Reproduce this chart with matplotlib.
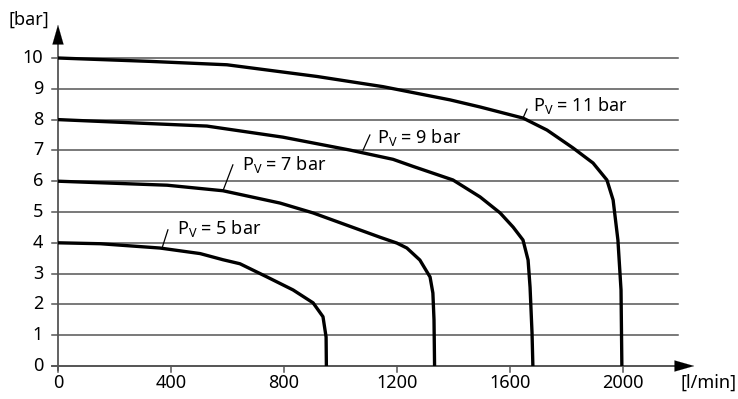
import matplotlib
matplotlib.use("Agg")
import matplotlib.pyplot as plt

plt.rcParams['font.family'] = ['Noto Sans', 'DejaVu Sans']
plt.rcParams['mathtext.default'] = 'regular'

# Data (flow l/min, pressure bar)
pv11_x = [0, 326, 598, 917, 1150, 1388, 1494, 1646, 1731, 1823, 1894, 1943, 1965, 1982, 1993, 1996]
pv11_y = [10, 9.89, 9.78, 9.40, 9.07, 8.64, 8.41, 8.05, 7.66, 7.08, 6.59, 6.04, 5.39, 4.09, 2.47, 0]
pv9_x = [0, 527, 796, 1034, 1186, 1257, 1398, 1494, 1565, 1611, 1646, 1664, 1671, 1678, 1681]
pv9_y = [8, 7.79, 7.43, 7.01, 6.71, 6.48, 6.04, 5.49, 4.97, 4.51, 4.09, 3.44, 2.56, 1.07, 0]
pv7_x = [0, 386, 584, 786, 903, 1080, 1140, 1200, 1235, 1281, 1317, 1327, 1331, 1333]
pv7_y = [6, 5.87, 5.69, 5.29, 4.97, 4.38, 4.18, 3.99, 3.83, 3.44, 2.89, 2.37, 1.5, 0]
pv5_x = [0, 150, 361, 503, 584, 644, 740, 832, 903, 938, 949, 950]
pv5_y = [4, 3.97, 3.83, 3.65, 3.45, 3.32, 2.89, 2.47, 2.05, 1.6, 0.94, 0]

labels = ["$P_V$ = 11 bar", "$P_V$ = 9 bar", "$P_V$ = 7 bar", "$P_V$ = 5 bar"]
label_pos = [(1680, 8.47), (1128, 7.42), (650, 6.53), (420, 4.45)]
leader_start = [(1646, 8.05), (1080, 7.01), (584, 5.69), (368, 3.82)]
leader_end = [(1660, 8.34), (1104, 7.5), (619, 6.53), (389, 4.42)]

x_ticks = [0, 400, 800, 1200, 1600, 2000]
y_ticks = list(range(0, 11))

W, H = 738, 399
fig = plt.figure(figsize=(W / 100, H / 100), dpi=100)
x0, x_arrow, y0, y_arrow = 58, 697, 366, 22
ax = fig.add_axes([x0 / W, (H - y0) / H, (x_arrow - x0) / W, (y0 - y_arrow) / H])
px_per_x = 565 / 2000.0
px_per_y = 30.8
ax.set_xlim(0, (x_arrow - x0) / px_per_x)
ax.set_ylim(0, (y0 - y_arrow) / px_per_y)
ax.axis('off')

FS = 13
grid_right = (678 - x0) / px_per_x
tick_len_x = 6 / px_per_x
tick_len_y = 6 / px_per_y
gc = '#555555'
for y in y_ticks:
    ax.plot([-tick_len_x, grid_right], [y, y], color=gc, lw=1.1, clip_on=False, zorder=1)
    ax.text(-15 / px_per_x, y, str(y), ha='right', va='center', fontsize=FS, clip_on=False)
for x in x_ticks:
    ax.plot([x, x], [0, -tick_len_y], color=gc, lw=1.1, clip_on=False, zorder=1)
    ax.text(x, -17 / px_per_y, str(x), ha='center', va='center', fontsize=FS, clip_on=False)

# axes with arrows
ymax = (y0 - y_arrow) / px_per_y
ax.plot([0, 0], [-tick_len_y * 0.7, ymax - 18 / px_per_y], color=gc, lw=1.3, clip_on=False, zorder=2)
ax.annotate('', xy=(0, ymax), xytext=(0, ymax - 20 / px_per_y),
            arrowprops=dict(arrowstyle='-|>,head_length=1.4,head_width=0.4', color='black', lw=0.1),
            annotation_clip=False)
xmax = (x_arrow - x0) / px_per_x
ax.plot([-tick_len_x, xmax - 18 / px_per_x], [0, 0], color=gc, lw=1.3, clip_on=False, zorder=2)
ax.annotate('', xy=(xmax, 0), xytext=(xmax - 20 / px_per_x, 0),
            arrowprops=dict(arrowstyle='-|>,head_length=1.4,head_width=0.4', color='black', lw=0.1),
            annotation_clip=False)

for xs, ys in [(pv11_x, pv11_y), (pv9_x, pv9_y), (pv7_x, pv7_y), (pv5_x, pv5_y)]:
    ax.plot(xs, ys, color='black', lw=2.4, zorder=3, solid_joinstyle='round', solid_capstyle='butt')

for lab, (tx, ty), (sx, sy), (ex, ey) in zip(labels, label_pos, leader_start, leader_end):
    ax.plot([sx, ex], [sy, ey], color='black', lw=0.9, zorder=3)
    ax.text(tx, ty, lab, ha='left', va='center', fontsize=FS)

fig.text(8 / W, 1 - 20 / H, '[bar]', ha='left', va='center', fontsize=FS)
fig.text(681 / W, 1 - 383 / H, '[l/min]', ha='left', va='center', fontsize=FS)

fig.savefig('out.png', dpi=100)
